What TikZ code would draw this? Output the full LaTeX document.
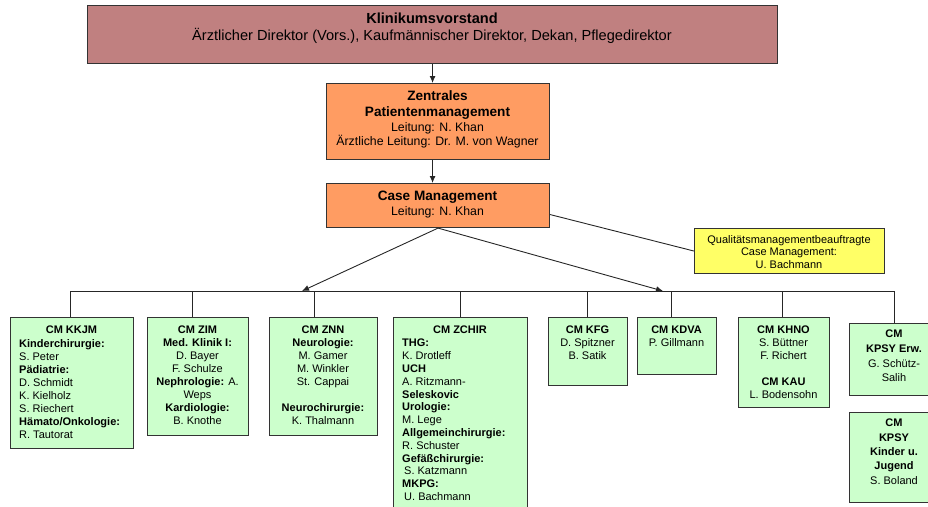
\documentclass[tikz,border=0pt]{standalone}
\usepackage{fontspec}
\setmainfont{Liberation Sans}
\usetikzlibrary{arrows.meta}
\definecolor{vorstandfill}{RGB}{192,128,128}
\definecolor{orangefill}{RGB}{255,156,98}
\definecolor{greenfill}{RGB}{204,255,204}
\definecolor{yellowfill}{RGB}{255,255,102}
\begin{document}
\begin{tikzpicture}[x=1pt,y=-1pt,
  box/.style={draw=black!80, line width=1.1pt, inner sep=0pt, anchor=north west},
  gbox/.style={box, fill=greenfill},
  obox/.style={box, fill=orangefill},
  txt/.style={inner sep=0pt, align=center, anchor=north, font=\fontsize{11}{13}\selectfont},
  ltxt/.style={inner sep=0pt, align=left, anchor=north west, font=\fontsize{11}{13}\selectfont},
  conn/.style={draw=black!85, line width=0.9pt},
  arr/.style={conn, -{Latex[length=7pt,width=6pt]}}
]
\useasboundingbox (0,0) rectangle (928,506);

% top boxes
\node[box, fill=vorstandfill, minimum width=690pt, minimum height=58pt] (vorstand) at (87,5) {};
\node[txt, font=\fontsize{14.6}{17}\selectfont] (vorstandT) at (432,12.5)
  {\textbf{Klinikumsvorstand}\\Ärztlicher Direktor (Vors.), Kaufmännischer Direktor, Dekan, Pflegedirektor};

\node[obox, minimum width=223pt, minimum height=76pt] (zpm) at (326,83) {};
\node[txt, font=\fontsize{13.6}{16}\selectfont\bfseries] (zpmT) at (437.5,90) {Zentrales\\Patientenmanagement};
\node[txt, font=\fontsize{12.3}{14}\selectfont] (zpmB) at (437.5,122) {Leitung: N. Khan\\Ärztliche Leitung: Dr. M. von Wagner};

\node[obox, minimum width=223pt, minimum height=44pt] (cm) at (326,183) {};
\node[txt, font=\fontsize{13.6}{16}\selectfont\bfseries] (cmT) at (437.5,191) {Case Management};
\node[txt, font=\fontsize{12.3}{14}\selectfont] (cmB) at (437.5,206) {Leitung: N. Khan};

\node[box, fill=yellowfill, minimum width=190pt, minimum height=45pt] (qmb) at (694,228) {};
\node[txt, font=\fontsize{11}{12.5}\selectfont] (qmbT) at (789,235)
  {Qualitätsmanagementbeauftragte\\Case Management:\\U. Bachmann};

% connectors top
\draw[arr] (vorstand.south) -- (vorstand.south |- zpm.north);
\draw[arr] (vorstand.south |- zpm.south) -- (vorstand.south |- cm.north);
\coordinate (busL) at (70,291);
\coordinate (busR) at (894,291);
\coordinate (tipL) at (302,291);
\coordinate (tipR) at (663,291);
\draw[conn] (busL) -- (busR);
\draw[arr] (cm.south) -- (tipL);
\draw[arr] (cm.south) -- (tipR);
\draw[conn] ([yshift=-9pt]cm.east) -- (qmb.west);

% green boxes
\node[gbox, minimum width=123pt, minimum height=131pt] (kkjm) at (10,317) {};
\node[gbox, minimum width=101pt, minimum height=118pt] (zim) at (147,317) {};
\node[gbox, minimum width=108pt, minimum height=118pt] (znn) at (269,317) {};
\node[gbox, minimum width=134pt, minimum height=200pt] (zchir) at (393,317) {};
\node[gbox, minimum width=79pt, minimum height=68pt] (kfg) at (548,317) {};
\node[gbox, minimum width=79pt, minimum height=57pt] (kdva) at (637,317) {};
\node[gbox, minimum width=91pt, minimum height=90pt] (khno) at (738,317) {};
\node[gbox, minimum width=90pt, minimum height=72pt] (kpsyE) at (849,323) {};
\node[gbox, minimum width=90pt, minimum height=90pt] (kpsyK) at (849,412) {};

% drops
\coordinate (dZIM) at (192,291);
\coordinate (dZNN) at (314,291);
\coordinate (dZCHIR) at (460,291);
\coordinate (dKFG) at (587,291);
\coordinate (dKDVA) at (671,291);
\coordinate (dKHNO) at (782,291);
\draw[conn] (busL) -- (busL |- kkjm.north);
\draw[conn] (dZIM) -- (dZIM |- zim.north);
\draw[conn] (dZNN) -- (dZNN |- znn.north);
\draw[conn] (dZCHIR) -- (dZCHIR |- zchir.north);
\draw[conn] (dKFG) -- (dKFG |- kfg.north);
\draw[conn] (dKDVA) -- (dKDVA |- kdva.north);
\draw[conn] (dKHNO) -- (dKHNO |- khno.north);
\draw[conn] (busR) -- (busR |- kpsyE.north);

% texts
\node[txt] (kkjmT) at (71.5,326) {\textbf{CM KKJM}};
\node[ltxt] (kkjmB) at (19,339) {\textbf{Kinderchirurgie:}\\S. Peter\\\textbf{Pädiatrie:}\\D. Schmidt\\K. Kielholz\\S. Riechert\\\textbf{Hämato/Onkologie:}\\R. Tautorat};

\node[txt] (zimT) at (197.5,326) {\textbf{CM ZIM}\\\textbf{Med. Klinik I:}\\D. Bayer\\F. Schulze\\\textbf{Nephrologie:} A.\\Weps\\\textbf{Kardiologie:}\\B. Knothe};

\node[txt] (znnT) at (323,326) {\textbf{CM ZNN}\\\textbf{Neurologie:}\\M. Gamer\\M. Winkler\\St. Cappai\\[13pt]\textbf{Neurochirurgie:}\\K. Thalmann};

\node[txt] (zchirT) at (460,326) {\textbf{CM ZCHIR}};
\node[ltxt, font=\fontsize{11}{12.8}\selectfont] (zchirB) at (402,339) {\textbf{THG:}\\K. Drotleff\\\textbf{UCH}\\A. Ritzmann-\\\textbf{Seleskovic}\\\textbf{Urologie:}\\M. Lege\\\textbf{Allgemeinchirurgie:}\\R. Schuster\\\textbf{Gefäßchirurgie:}\\\hspace*{2pt}S. Katzmann\\\textbf{MKPG:}\\\hspace*{2pt}U. Bachmann};

\node[txt] (kfgT) at (587.5,326) {\textbf{CM KFG}\\D. Spitzner\\B. Satik};
\node[txt] (kdvaT) at (676.5,326) {\textbf{CM KDVA}\\P. Gillmann};
\node[txt] (khnoT) at (783.5,326) {\textbf{CM KHNO}\\S. Büttner\\F. Richert\\[13pt]\textbf{CM KAU}\\L. Bodensohn};
\node[txt, font=\fontsize{11}{14.7}\selectfont] (kpsyET) at (894,330) {\textbf{CM}\\\textbf{KPSY Erw.}\\G. Schütz-\\Salih};
\node[txt, font=\fontsize{11}{14.3}\selectfont] (kpsyKT) at (894,419) {\textbf{CM}\\\textbf{KPSY}\\\textbf{Kinder u.}\\\textbf{Jugend}\\S. Boland};
\end{tikzpicture}
\end{document}
